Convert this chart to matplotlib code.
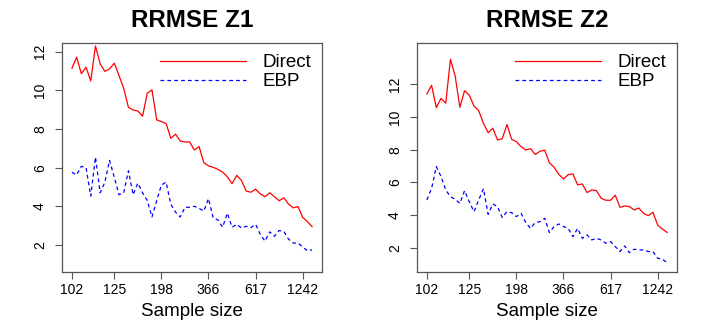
import matplotlib.pyplot as plt
import numpy as np

plt.rcParams['font.family'] = ['Liberation Sans', 'DejaVu Sans']

# sample size tick labels (placed at point index 1, 10, 20, ..., 50)
tick_pos = [1, 10, 20, 30, 40, 50]
tick_labels = ["102", "125", "198", "366", "617", "1242"]

# RRMSE Z1
z1_direct = [11.14, 11.71, 10.86, 11.19, 10.48, 12.29, 11.36, 10.98, 11.11, 11.40,
             10.76, 10.10, 9.12, 8.98, 8.93, 8.66, 9.85, 10.02, 8.47, 8.38,
             8.28, 7.52, 7.73, 7.38, 7.33, 7.33, 6.91, 7.09, 6.26, 6.09,
             6.02, 5.91, 5.77, 5.53, 5.17, 5.60, 5.34, 4.79, 4.73, 4.89,
             4.64, 4.50, 4.70, 4.50, 4.29, 4.44, 4.12, 3.92, 3.99, 3.43,
             3.21, 2.95]
z1_ebp = [5.76, 5.62, 6.07, 6.00, 4.53, 6.55, 4.70, 5.25, 6.38, 5.50,
          4.60, 4.70, 5.84, 4.60, 5.20, 4.70, 4.30, 3.45, 4.30, 5.10,
          5.25, 4.10, 3.70, 3.45, 3.95, 3.95, 4.00, 3.90, 3.75, 4.40,
          3.40, 3.30, 2.92, 3.65, 2.92, 3.07, 2.88, 2.97, 2.90, 3.07,
          2.55, 2.20, 2.68, 2.45, 2.75, 2.70, 2.30, 2.10, 2.10, 1.90,
          1.70, 1.75]

# RRMSE Z2
z2_direct = [11.41, 11.94, 10.57, 11.14, 10.84, 13.53, 12.51, 10.59, 11.61, 11.33,
             10.67, 10.39, 9.61, 9.04, 9.31, 8.59, 8.67, 9.53, 8.63, 8.49,
             8.18, 7.98, 8.06, 7.70, 7.90, 7.97, 7.20, 6.92, 6.49, 6.20,
             6.47, 6.51, 5.84, 5.90, 5.37, 5.53, 5.49, 5.02, 4.90, 4.90,
             5.21, 4.47, 4.55, 4.51, 4.31, 4.42, 4.10, 3.96, 4.16, 3.38,
             3.14, 2.93]
z2_ebp = [4.92, 5.63, 6.96, 6.35, 5.53, 5.12, 4.96, 4.71, 5.49, 4.81,
          4.20, 4.92, 5.61, 4.04, 4.67, 4.51, 3.84, 4.20, 4.14, 3.90,
          4.10, 3.53, 3.18, 3.53, 3.59, 3.80, 2.92, 3.29, 3.45, 3.29,
          3.18, 2.67, 3.18, 2.57, 2.78, 2.47, 2.57, 2.47, 2.27, 2.37,
          2.06, 1.76, 2.10, 1.69, 1.90, 1.86, 1.86, 1.76, 1.76, 1.35,
          1.29, 1.08]

fig = plt.figure(figsize=(7.08, 3.27), dpi=100)

panels = [
    ("RRMSE Z1", z1_direct, z1_ebp, 0.088, (0.59, 12.43)),
    ("RRMSE Z2", z2_direct, z2_ebp, 0.5894, (0.49, 14.51)),
]

for title, direct, ebp, left, ylim in panels:
    ax = fig.add_axes([left, 0.1673, 0.3664, 0.7003])
    x = np.arange(1, len(direct) + 1)
    ax.plot(x, direct, color="#ff0000", lw=0.9, label="Direct")
    ax.plot(x, ebp, color="#0000ff", lw=0.9, linestyle=(0, (3, 2.5)), label="EBP")

    ax.set_xlim(-1.04, 54.04)
    ax.set_ylim(*ylim)
    ax.set_xticks(tick_pos)
    ax.set_xticklabels(tick_labels)
    ax.set_yticks([2, 4, 6, 8, 10, 12])
    for lab in ax.get_yticklabels():
        lab.set_rotation(90)
        lab.set_va("center")

    ax.tick_params(axis="x", length=5, width=0.8, color="#555555", labelsize=10, pad=3)
    ax.tick_params(axis="y", length=5, width=0.8, color="#555555", labelsize=10, pad=6)
    for sp in ax.spines.values():
        sp.set_color("#555555")
        sp.set_linewidth(0.9)

    ax.set_title(title, fontsize=17.5, fontweight="bold", pad=12)
    ax.set_xlabel("Sample size", fontsize=13.5, labelpad=4)

    ax.legend(loc="upper right", bbox_to_anchor=(0.99, 0.985), frameon=False,
              fontsize=13.5, handlelength=4.6, handletextpad=0.9,
              labelspacing=0.1, borderaxespad=0)

fig.savefig("out.png", dpi=100)
